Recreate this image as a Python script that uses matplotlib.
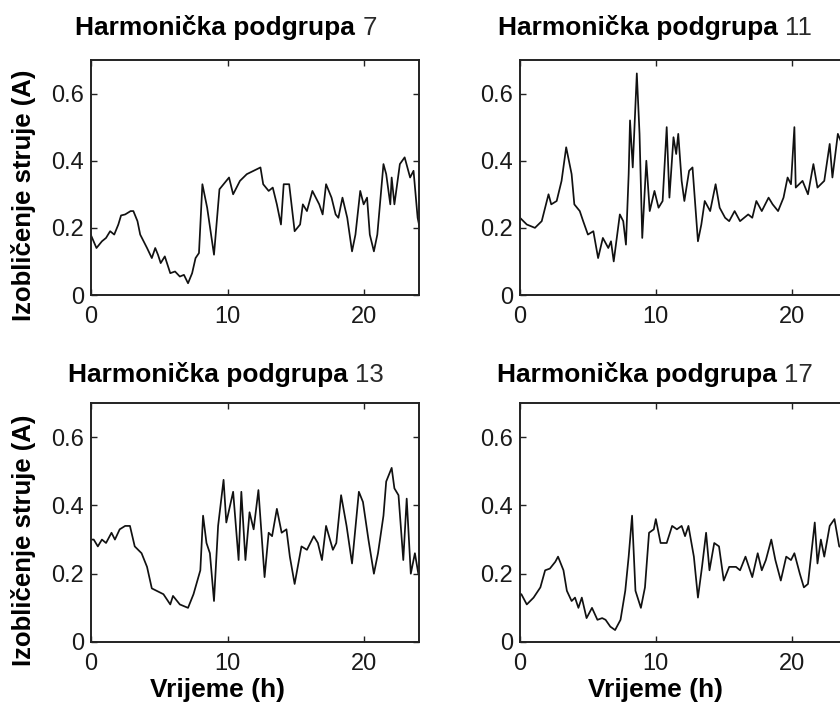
import numpy as np
import matplotlib.pyplot as plt

# harmonic subgroup 7
h7_t = [0, 0.4, 0.8, 1.1, 1.4, 1.7, 2.0, 2.2, 2.5, 2.9, 3.1, 3.4, 3.6, 4.1, 4.45, 4.7, 4.9,
        5.1, 5.4, 5.8, 6.15, 6.5, 6.8, 7.1, 7.4, 7.65, 7.9, 8.15, 8.5, 9.0, 9.4, 9.7, 10.1,
        10.4, 10.9, 11.4, 11.9, 12.4, 12.6, 13.0, 13.3, 13.6, 13.9, 14.1, 14.5, 14.9, 15.3,
        15.5, 15.8, 16.2, 16.7, 16.95, 17.2, 17.6, 17.9, 18.1, 18.4, 18.75, 19.1, 19.35,
        19.7, 19.95, 20.2, 20.4, 20.7, 20.95, 21.4, 21.6, 21.9, 22.0, 22.2, 22.6, 22.95,
        23.35, 23.6, 23.9, 24.0]
h7_v = [0.178, 0.14, 0.16, 0.17, 0.19, 0.18, 0.21, 0.237, 0.24, 0.25, 0.25, 0.22, 0.18,
        0.14, 0.11, 0.14, 0.12, 0.095, 0.115, 0.065, 0.07, 0.055, 0.06, 0.035, 0.065, 0.11,
        0.125, 0.33, 0.26, 0.12, 0.315, 0.33, 0.35, 0.30, 0.34, 0.36, 0.37, 0.38, 0.33,
        0.31, 0.32, 0.27, 0.21, 0.33, 0.33, 0.19, 0.21, 0.27, 0.25, 0.31, 0.27, 0.24, 0.33,
        0.29, 0.24, 0.23, 0.29, 0.23, 0.13, 0.18, 0.31, 0.27, 0.29, 0.18, 0.13, 0.18, 0.39,
        0.36, 0.27, 0.35, 0.27, 0.39, 0.41, 0.35, 0.37, 0.23, 0.21]

# harmonic subgroup 11
h11_t = [0, 0.5, 1.1, 1.6, 2.1, 2.3, 2.7, 3.06, 3.4, 3.8, 4.0, 4.4, 4.65, 5.0, 5.4, 5.75,
         6.1, 6.5, 6.7, 6.9, 7.35, 7.6, 7.8, 8.0, 8.1, 8.3, 8.6, 8.8, 9.0, 9.3, 9.55, 9.9,
         10.2, 10.5, 10.8, 11.0, 11.3, 11.5, 11.65, 11.9, 12.1, 12.45, 12.7, 13.1, 13.35,
         13.6, 14.0, 14.4, 14.7, 15.1, 15.4, 15.8, 16.2, 16.8, 17.1, 17.4, 17.8, 18.3, 18.6,
         19.0, 19.4, 19.7, 19.95, 20.2, 20.3, 20.8, 21.2, 21.6, 21.9, 22.4, 22.8, 23.0,
         23.4, 24.0]
h11_v = [0.23, 0.21, 0.20, 0.22, 0.30, 0.27, 0.28, 0.34, 0.44, 0.36, 0.27, 0.25, 0.22,
         0.18, 0.19, 0.11, 0.17, 0.14, 0.16, 0.10, 0.24, 0.22, 0.15, 0.36, 0.52, 0.38, 0.66,
         0.48, 0.17, 0.40, 0.25, 0.31, 0.26, 0.28, 0.50, 0.29, 0.47, 0.42, 0.48, 0.34, 0.28,
         0.37, 0.38, 0.16, 0.21, 0.28, 0.25, 0.33, 0.26, 0.23, 0.22, 0.25, 0.22, 0.24, 0.23,
         0.28, 0.25, 0.29, 0.27, 0.25, 0.29, 0.35, 0.33, 0.50, 0.32, 0.34, 0.30, 0.39, 0.32,
         0.34, 0.45, 0.35, 0.48, 0.42]

# harmonic subgroup 13
h13_t = [0, 0.2, 0.5, 0.8, 1.1, 1.5, 1.75, 2.1, 2.5, 2.85, 3.2, 3.7, 4.1, 4.45, 4.8, 5.3,
         5.8, 6.0, 6.5, 7.1, 7.5, 8.0, 8.2, 8.45, 8.7, 9.0, 9.3, 9.7, 9.9, 10.4, 10.8, 11.0,
         11.3, 11.6, 11.9, 12.25, 12.7, 13.0, 13.25, 13.6, 13.95, 14.3, 14.55, 14.9, 15.4,
         15.8, 16.3, 16.6, 16.9, 17.2, 17.7, 17.95, 18.3, 18.7, 19.1, 19.6, 19.9, 20.3, 20.7,
         21.0, 21.4, 21.6, 22.0, 22.2, 22.5, 22.85, 23.1, 23.4, 23.7, 23.95]
h13_v = [0.30, 0.30, 0.28, 0.30, 0.29, 0.32, 0.30, 0.33, 0.34, 0.34, 0.28, 0.26, 0.22,
         0.157, 0.15, 0.14, 0.11, 0.135, 0.11, 0.10, 0.14, 0.21, 0.37, 0.29, 0.26, 0.12,
         0.34, 0.475, 0.35, 0.44, 0.24, 0.44, 0.24, 0.38, 0.33, 0.445, 0.19, 0.32, 0.31,
         0.39, 0.32, 0.33, 0.25, 0.17, 0.28, 0.27, 0.31, 0.29, 0.24, 0.34, 0.27, 0.29, 0.43,
         0.34, 0.23, 0.44, 0.41, 0.30, 0.20, 0.26, 0.37, 0.47, 0.51, 0.45, 0.43, 0.24, 0.42,
         0.20, 0.26, 0.20]

# harmonic subgroup 17
h17_t = [0, 0.1, 0.5, 1.0, 1.5, 1.85, 2.2, 2.6, 2.8, 3.2, 3.45, 3.8, 4.05, 4.3, 4.55, 4.9,
         5.3, 5.7, 6.05, 6.3, 6.65, 7.0, 7.4, 7.75, 8.0, 8.25, 8.5, 8.9, 9.2, 9.5, 9.85,
         10.0, 10.35, 10.8, 11.2, 11.55, 11.9, 12.15, 12.4, 12.8, 13.1, 13.4, 13.7, 13.95,
         14.3, 14.65, 15.0, 15.4, 15.9, 16.2, 16.6, 17.1, 17.5, 17.8, 18.1, 18.5, 18.8, 19.2,
         19.6, 19.95, 20.2, 20.6, 20.9, 21.2, 21.7, 21.9, 22.15, 22.4, 22.8, 23.15, 23.5,
         24.0]
h17_v = [0.14, 0.14, 0.11, 0.13, 0.16, 0.21, 0.215, 0.235, 0.25, 0.21, 0.15, 0.12, 0.13,
         0.10, 0.13, 0.07, 0.10, 0.065, 0.07, 0.065, 0.045, 0.035, 0.065, 0.15, 0.25, 0.37,
         0.15, 0.10, 0.16, 0.32, 0.33, 0.36, 0.29, 0.29, 0.34, 0.33, 0.34, 0.31, 0.34, 0.25,
         0.13, 0.22, 0.32, 0.21, 0.29, 0.28, 0.18, 0.22, 0.22, 0.21, 0.25, 0.19, 0.26, 0.21,
         0.24, 0.30, 0.24, 0.18, 0.25, 0.24, 0.26, 0.20, 0.16, 0.17, 0.35, 0.23, 0.30, 0.25,
         0.34, 0.36, 0.28, 0.27]

panels = [
    ("7", h7_t, h7_v, [91, 60, 419, 295], 75, 35, True, False),
    ("11", h11_t, h11_v, [520, 60, 846, 295], 498, 35, False, False),
    ("13", h13_t, h13_v, [91, 403, 419, 642], 68, 382, True, True),
    ("17", h17_t, h17_v, [520, 403, 846, 642], 497, 382, False, True),
]

W, H = 840, 705
fig = plt.figure(figsize=(W / 100, H / 100), dpi=100)
tick_col = "#1a1a1a"

for num, t, v, box, tx, ty, ylab, xlab in panels:
    x0, y0, x1, y1 = box
    ax = fig.add_axes([x0 / W, 1 - y1 / H, (x1 - x0) / W, (y1 - y0) / H])
    ax.plot(t, v, color="#111111", lw=1.25)
    ax.set_xlim(0, 24)
    ax.set_ylim(0, 0.7)
    ax.set_xticks([0, 10, 20])
    ax.set_xticklabels(["0", "10", "20"])
    ax.set_yticks([0, 0.2, 0.4, 0.6])
    ax.set_yticklabels(["0", "0.2", "0.4", "0.6"])
    ax.tick_params(direction="in", top=True, right=True, length=4, width=1,
                   labelsize=17, colors="#222222", labelcolor=tick_col)
    ax.tick_params(axis="x", pad=8)
    ax.tick_params(axis="y", pad=5)
    for sp in ax.spines.values():
        sp.set_linewidth(1.4)
        sp.set_color("#222222")
    for lab in ax.get_xticklabels() + ax.get_yticklabels():
        lab.set_family("Liberation Sans")

    # title: bold text followed by the subgroup number in normal weight
    t1 = fig.text(tx / W, 1 - ty / H, "Harmonička podgrupa ", family="Liberation Sans",
                  fontweight="bold", fontsize=19, ha="left", va="baseline")
    ax.annotate(num, xy=(1, 0), xycoords=t1, xytext=(0, 0),
                textcoords="offset points", family="Liberation Sans",
                fontsize=18.5, color="#2a2a2a", va="bottom", ha="left",
                annotation_clip=False)

    if ylab:
        fig.text(24 / W, 1 - ((y0 + y1) / 2 + 18) / H, "Izobličenje struje (A)",
                 family="Liberation Sans", fontweight="bold", fontsize=18.5,
                 rotation=90, ha="center", va="center")
    if xlab:
        cx = 217 if x0 < 400 else 656
        fig.text(cx / W, 1 - 690 / H, "Vrijeme (h)", family="Liberation Sans",
                 fontweight="bold", fontsize=19, ha="center", va="center")

fig.savefig("out.png", dpi=100)
